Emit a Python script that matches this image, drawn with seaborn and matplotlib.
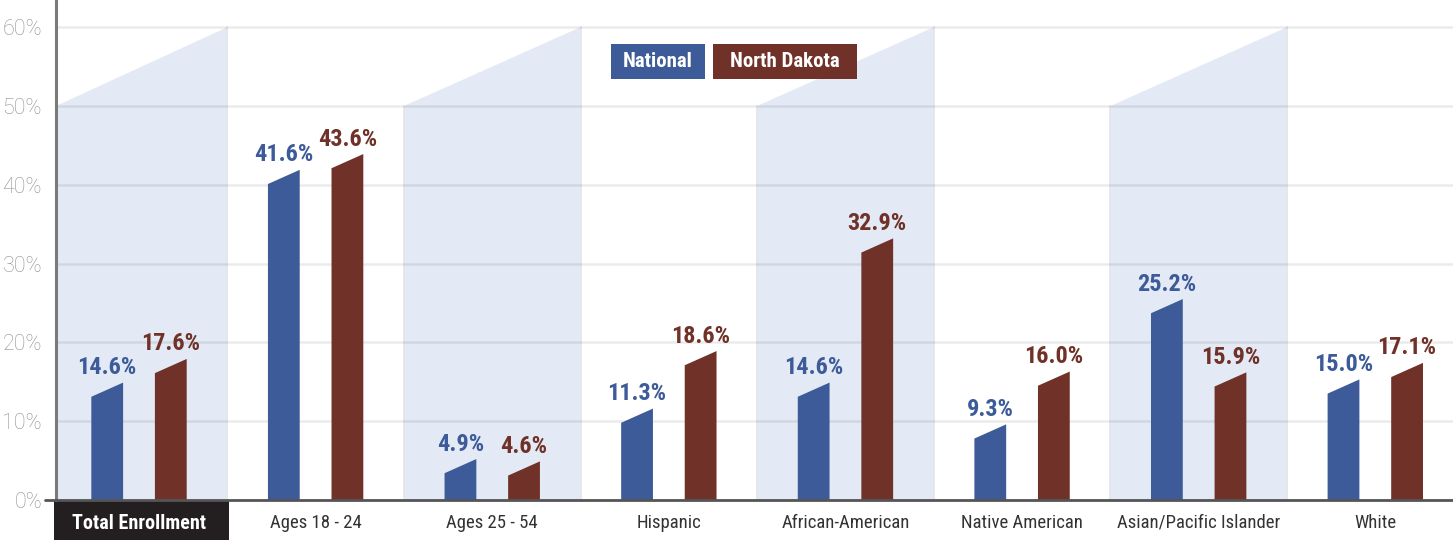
import numpy as np
import pandas as pd
import matplotlib
matplotlib.use("Agg")
import matplotlib.pyplot as plt
import seaborn as sns
from matplotlib.patches import Polygon, Rectangle
from matplotlib import font_manager as fm
from matplotlib.transforms import blended_transform_factory

# ---------------- data ----------------
categories = ["Total Enrollment", "Ages 18 - 24", "Ages 25 - 54", "Hispanic",
              "African-American", "Native American", "Asian/Pacific Islander", "White"]
series = ["National", "North Dakota"]
national = [14.6, 41.6, 4.9, 11.3, 14.6, 9.3, 25.2, 15.0]
north_dakota = [17.6, 43.6, 4.6, 18.6, 32.9, 16.0, 15.9, 17.1]
y_ticks = [0, 10, 20, 30, 40, 50, 60]
y_tick_labels = ["0%", "10%", "20%", "30%", "40%", "50%", "60%"]
band_low, band_high = 50, 60

# ---------------- style ----------------
BLUE = "#3d5b98"
BROWN = "#6f3128"
BAND = "#e3eaf5"

sns.set_style("white")
names = {f.name for f in fm.fontManager.ttflist}


def pick(cands):
    for c in cands:
        if c in names:
            return c
    return "DejaVu Sans"


NARROW = pick(["Roboto Condensed", "Archivo Narrow", "Barlow Semi Condensed", "Asap Condensed"])
LIGHT = pick(["Roboto", "Open Sans"])
plt.rcParams["font.family"] = [NARROW, "DejaVu Sans"]

df = pd.DataFrame({
    "category": categories * 2,
    "series": [series[0]] * len(categories) + [series[1]] * len(categories),
    "value": national + north_dakota,
})

W, H = 1453, 540
fig = plt.figure(figsize=(W / 100, H / 100), dpi=100)
ax = fig.add_axes([56 / W, 40 / H, 1397 / W, 500 / H])

xl, xr = -0.47, 7.44

sns.barplot(data=df, x="category", y="value", hue="series", order=categories,
            hue_order=series, palette=[BLUE, BROWN], width=0.72, gap=0.5,
            saturation=1, legend=False, ax=ax, zorder=3)
ax.set_xlim(xl, xr)
ax.set_ylim(0, 63.45)

# replace rectangles with slanted-top bars
rects = [p for p in ax.patches if isinstance(p, Rectangle)]
slope = (band_high - band_low) * 1.0  # rise per category width
for p in rects:
    x, w, h = p.get_x(), p.get_width(), p.get_height()
    fc = p.get_facecolor()
    p.set_visible(False)
    top_r = h + 0.3
    top_l = top_r - slope * w
    ax.add_patch(Polygon([(x, 0), (x + w, 0), (x + w, top_r), (x, top_l)],
                         closed=True, facecolor=fc, edgecolor="none", zorder=3))
    ax.text(x + w / 2, top_r + 1.9, f"{h:.1f}%", ha="center", va="center",
            color=fc, fontsize=17.5, fontweight="bold", family=[NARROW, "DejaVu Sans"],
            zorder=4)

# background bands
for k in range(0, len(categories), 2):
    x0 = max(k - 0.5, xl)
    x1 = k + 0.5
    ax.add_patch(Polygon([(x0, 0), (x1, 0), (x1, band_high), (x0, band_low)],
                         closed=True, facecolor=BAND, edgecolor="none", zorder=0.2))
    for xx, tt in ((x0, band_low), (x1, band_high)):
        if xx > xl:
            ax.plot([xx, xx], [0, tt], color="#e2e4e8", lw=1.2, zorder=0.3)

# grid
ax.set_axisbelow(True)
ax.set_yticks(y_ticks)
ax.set_yticklabels(y_tick_labels)
ax.yaxis.grid(True, color="black", alpha=0.08, linewidth=1.8)
ax.xaxis.grid(False)
ax.tick_params(axis="y", length=0, pad=10, labelsize=15.5, labelcolor="#929292")
for t in ax.get_yticklabels():
    t.set_family([LIGHT, "DejaVu Sans"])
    t.set_fontweight("light")

for s in ["top", "right", "bottom"]:
    ax.spines[s].set_visible(False)
ax.spines["left"].set_color("#7a7a7a")
ax.spines["left"].set_linewidth(2.2)

# bottom axis line (extends a little left of the spine)
ax.plot([-11 / 1397, 1], [0, 0], transform=ax.get_yaxis_transform(),
        color="#555555", lw=2.0, clip_on=False, zorder=6)

# x labels and separators
ax.set_xticks(range(len(categories)))
ax.set_xticklabels(categories)
ax.set_xlabel("")
ax.set_ylabel("")
ax.tick_params(axis="x", which="major", length=0, pad=10, labelsize=13.5,
               labelcolor="#333333")
ax.set_xticks(np.arange(0.5, len(categories) - 0.5, 1), minor=True)
ax.tick_params(axis="x", which="minor", length=40 * 0.72, width=1.3,
               color="#d4d4d4", direction="out")
first = ax.get_xticklabels()[0]
first.set_color("white")
first.set_fontweight("bold")
first.set_fontsize(14.5)

trans = blended_transform_factory(ax.transData, ax.transAxes)
ax.add_patch(Rectangle((xl - 0.012, -40 / 500), 0.5 - xl + 0.024, 40 / 500,
                       transform=trans, facecolor="#231f20", edgecolor="none",
                       clip_on=False, zorder=0.1))


# legend boxes
def legend_box(x0, x1, label, color):
    y0, y1 = 44, 79
    fig.patches.append(Rectangle((x0 / W, 1 - y1 / H), (x1 - x0) / W, (y1 - y0) / H,
                                 transform=fig.transFigure, facecolor=color,
                                 edgecolor="none", zorder=5))
    fig.text((x0 + x1) / 2 / W, 1 - (y0 + y1) / 2 / H, label, ha="center",
             va="center", color="white", fontsize=15, fontweight="bold",
             family=[NARROW, "DejaVu Sans"], zorder=6)


legend_box(611, 705, series[0], BLUE)
legend_box(713, 857, series[1], BROWN)

fig.savefig("out.png", dpi=100)
